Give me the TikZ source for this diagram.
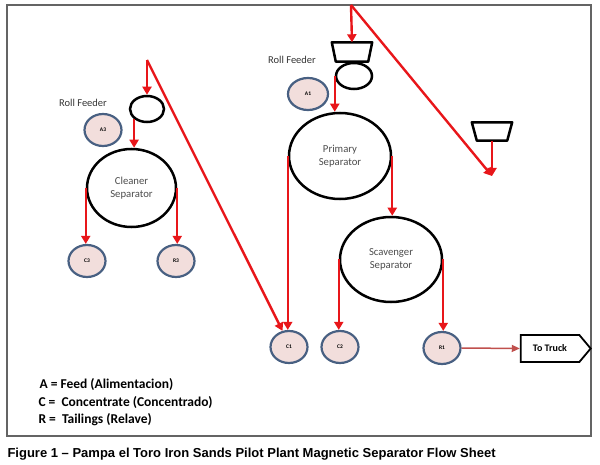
\documentclass[tikz,border=0pt]{standalone}
\usepackage{fontspec}
\setmainfont{Carlito}
\newfontfamily\capfont{Liberation Sans}
\usepackage{xcolor}
\usetikzlibrary{positioning}
\usetikzlibrary{shapes.geometric,shapes.symbols,arrows.meta}
\definecolor{flowred}{RGB}{232,22,26}
\definecolor{truckred}{RGB}{192,80,77}
\definecolor{streamblue}{RGB}{72,96,130}
\definecolor{streampink}{RGB}{242,222,220}
\definecolor{framegray}{RGB}{100,100,100}

\begin{document}
\begin{tikzpicture}[
  x=1pt, y=-1pt,
  sep/.style={
    draw,
    ellipse,
    line width=2.5pt,
    inner sep=0pt,
    align=center,
    text=black!70,
    font=\fontsize{10.7}{13}\selectfont
  },
  feeder/.style={draw, ellipse, line width=2.5pt, inner sep=0pt},
  stream/.style={
    draw=streamblue,
    fill=streampink,
    ellipse,
    line width=2.2pt,
    inner sep=0pt,
    minimum width=37pt,
    minimum height=32pt,
    font=\fontsize{5.5}{6}\selectfont\bfseries
  },
  hopper/.style={rectangle, inner sep=0pt, minimum width=40pt, minimum height=19pt},
  flow/.style={draw=flowred, line width=2.4pt, -{Triangle[length=8pt,width=9pt]}},
  lbl/.style={font=\fontsize{10.5}{12}\selectfont, text=black!80},
  legend/.style={anchor=west, font=\fontsize{13.5}{16}\selectfont\bfseries}
]
\useasboundingbox (0,0) rectangle (600,465);
\draw[framegray, line width=1.5pt] (7,5) rectangle (591,436);

\node[sep, minimum width=89pt, minimum height=78pt] (clean) at (131.5,188) {Cleaner\\Separator};
\node[feeder, minimum width=34pt, minimum height=26pt] (rf3) at (147,109) {};
\node[lbl] (rflabel3) at (83,103) {Roll Feeder};
\node[stream] (a3) at (103,130) {A3};
\node[stream] (c3) at (87,261) {C3};
\node[stream] (r3) at (176,261) {R3};
\coordinate (feed3) at (147,60);

\node[hopper] (hop1) at (352,52) {};
\node[feeder, minimum width=36pt, minimum height=26pt] (rf1) at (354,76) {};
\node[lbl] (rflabel1) at (292,60) {Roll Feeder};
\node[stream, minimum width=40pt] (a1) at (308,94) {A1};
\node[sep, minimum width=102pt, minimum height=86pt] (prim) at (340,156) {Primary\\Separator};
\node[sep, minimum width=102pt, minimum height=85pt] (scav) at (391,259.5) {Scavenger\\Separator};
\node[stream] (c1) at (289,347) {C1};
\node[stream] (c2) at (340,347) {C2};
\node[stream] (r1) at (442,348) {R1};
\node[hopper, minimum height=18pt] (hop2) at (492,131.5) {};
\node[draw, signal, signal to=east, signal pointer angle=100, line width=1.8pt,
  minimum width=70pt, minimum height=27pt, inner sep=2pt,
  font=\fontsize{10}{12}\selectfont\bfseries] (truck) at (550,348.5) {To Truck};
\coordinate (feed1) at (351,5);
\coordinate (drop) at (492,176);

\draw[line width=2.5pt, line join=round] (hop1.north west) -- (hop1.north east)
  -- ([xshift=-4pt]hop1.south east) -- ([xshift=4pt]hop1.south west) -- cycle;
\draw[line width=2.5pt, line join=round] (hop2.north west) -- (hop2.north east)
  -- ([xshift=-5pt]hop2.south east) -- ([xshift=5pt]hop2.south west) -- cycle;

\draw[flow] (feed3) -- (rf3.north);
\draw[flow] (feed3) -- (c1.112);
\draw[flow] (rf3.south west) -- (rf3.south west |- clean.north);
\draw[flow] (clean.west) -- (clean.west |- c3.north);
\draw[flow] (clean.east) -- (clean.east |- r3.north);

\draw[flow] (feed1) -- (hop1.north);
\draw[flow] (feed1) -- (drop);
\draw[flow] (hop2.south) -- (drop);
\draw[flow] (rf1.west) -- (rf1.west |- prim.north);
\draw[flow] (prim.west) -- (prim.west |- c1.north);
\draw[flow] (prim.east) -- (prim.east |- scav.north);
\draw[flow] (scav.west) -- (scav.west |- c2.north);
\draw[flow] (scav.east) -- (scav.east |- r1.north);
\draw[truckred, line width=1.5pt, -{Triangle[length=8pt,width=7pt]}] (r1.east) -- (truck.west);

\node[legend] (keya) at (36,385) {A = Feed (Alimentacion)};
\node[legend] (keyc) at (35,403) {C =\ \ Concentrate (Concentrado)};
\node[legend] (keyr) at (35,420) {R =\ \ Tailings (Relave)};
\node[anchor=west, font={\capfont\bfseries\fontsize{13}{15}\selectfont}] (caption) at (4,454)
  {Figure 1 – Pampa el Toro Iron Sands Pilot Plant Magnetic Separator Flow Sheet};
\end{tikzpicture}
\end{document}
